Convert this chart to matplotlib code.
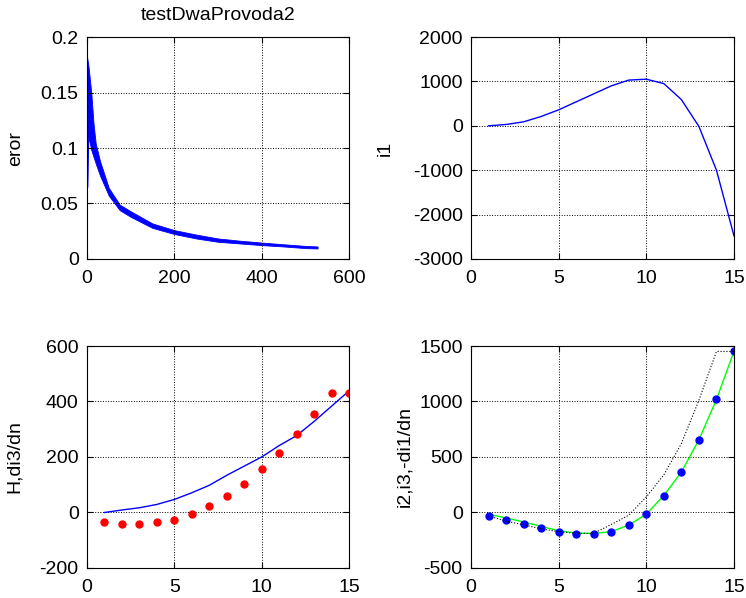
import matplotlib.pyplot as plt

plt.rcParams['font.family'] = ['Liberation Sans', 'DejaVu Sans']
plt.rcParams['font.size'] = 14
plt.rcParams['axes.unicode_minus'] = False

# error band (upper / lower envelope of the oscillating trace)
err_x = [0, 1, 3, 5, 10, 15, 20, 30, 50, 75, 100, 150, 200, 250, 300, 350, 400, 450, 500, 528]
err_hi = [0.182, 0.180, 0.175, 0.168, 0.149, 0.122, 0.104, 0.088, 0.064, 0.049, 0.043, 0.032,
          0.026, 0.022, 0.0185, 0.0165, 0.0148, 0.0133, 0.0118, 0.0113]
err_lo = [0.182, 0.065, 0.110, 0.107, 0.098, 0.092, 0.086, 0.075, 0.057, 0.044, 0.038, 0.028,
          0.0225, 0.0185, 0.0155, 0.014, 0.0125, 0.0113, 0.0098, 0.0095]

n = list(range(1, 16))
i1 = [0, 30, 90, 210, 360, 540, 720, 900, 1030, 1050, 950, 590, -15, -1000, -2480]

H = [0, 9, 17, 29, 47, 71, 98, 134, 167, 200, 241, 277, 328, 383, 438]
di3 = [-36, -40, -40, -36, -26, -7, 22, 60, 103, 155, 216, 284, 355, 432, 432]

i2 = [-15, -50, -85, -125, -165, -185, -190, -172, -114, -15, 153, 365, 656, 1018, 1452]
i3 = [-30, -66, -102, -138, -176, -197, -197, -173, -114, -15, 153, 365, 656, 1018, 1452]
di1 = [-30, -78, -111, -147, -173, -188, -188, -108, -24, 140, 340, 621, 1012, 1451, 1451]


def style(ax, label, lx):
    ax.grid(True, color='black', linestyle=':', linewidth=0.7)
    ax.tick_params(direction='in', top=True, right=True, length=4, width=0.8)
    ax.tick_params(axis='x', pad=8)
    ax.tick_params(axis='y', pad=6)
    for s in ax.spines.values():
        s.set_linewidth(0.8)
    ax.set_ylabel(label)
    ax.yaxis.set_label_coords(lx, 0.5)


fig = plt.figure(figsize=(7.46, 5.98), dpi=100)
ax1 = fig.add_axes([0.1166, 0.5669, 0.3512, 0.3712])
ax2 = fig.add_axes([0.6314, 0.5669, 0.3525, 0.3712])
ax3 = fig.add_axes([0.1166, 0.0502, 0.3512, 0.3712])
ax4 = fig.add_axes([0.6314, 0.0502, 0.3525, 0.3712])

ax1.fill_between(err_x, err_lo, err_hi, color='blue', linewidth=0.6)
ax1.set_xlim(0, 600)
ax1.set_ylim(0, 0.2)
ax1.set_xticks([0, 200, 400, 600])
ax1.set_yticks([0, 0.05, 0.1, 0.15, 0.2])
ax1.set_yticklabels(['0', '0.05', '0.1', '0.15', '0.2'])
ax1.set_title('testDwaProvoda2', fontsize=14, pad=12)

ax2.plot(n, i1, color='blue', linewidth=1)
ax2.set_xlim(0, 15)
ax2.set_ylim(-3000, 2000)
ax2.set_xticks([0, 5, 10, 15])
ax2.set_yticks(range(-3000, 2001, 1000))

ax3.plot(n, H, color='blue', linewidth=1)
ax3.plot(n, di3, 'o', color='red', markersize=5)
ax3.set_xlim(0, 15)
ax3.set_ylim(-200, 600)
ax3.set_xticks([0, 5, 10, 15])
ax3.set_yticks(range(-200, 601, 200))

ax4.plot(n, i2, color='#00ff00', linewidth=1)
ax4.plot(n, i3, 'o', color='blue', markersize=5)
ax4.plot(n, di1, ':', color='black', linewidth=0.8)
ax4.set_xlim(0, 15)
ax4.set_ylim(-500, 1500)
ax4.set_xticks([0, 5, 10, 15])
ax4.set_yticks(range(-500, 1501, 500))

style(ax1, 'eror', -0.24)
style(ax2, 'i1', -0.293)
style(ax3, 'H,di3/dn', -0.244)
style(ax4, 'i2,i3,-di1/dn', -0.22)

fig.savefig('out.png', dpi=100)
